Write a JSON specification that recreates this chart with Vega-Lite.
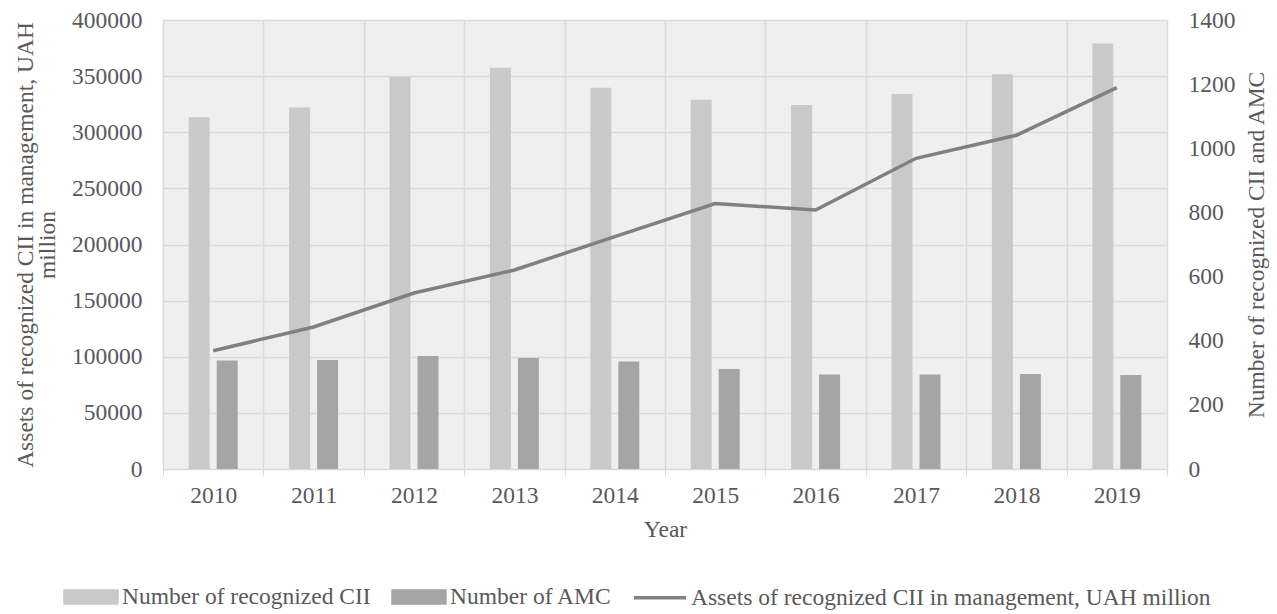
{
  "$schema": "https://vega.github.io/schema/vega-lite/v6.json",
  "width": 1004,
  "height": 449,
  "autosize": {"type": "none"},
  "padding": {"left": 163, "top": 20, "right": 110, "bottom": 145},
  "background": "white",
  "config": {
    "font": "Liberation Serif",
    "view": {"stroke": null, "fill": "#efefef"},
    "axis": {
      "labelFont": "Liberation Serif",
      "titleFont": "Liberation Serif",
      "labelFontSize": 23.5,
      "titleFontSize": 23.5,
      "labelColor": "#595959",
      "titleColor": "#595959",
      "titleFontWeight": "normal",
      "gridColor": "#d9d9d9",
      "gridWidth": 1.5,
      "domainColor": "#d9d9d9",
      "tickColor": "#d9d9d9"
    },
    "legend": {
      "labelFont": "Liberation Serif",
      "labelFontSize": 23.5,
      "labelColor": "#595959",
      "labelLimit": 1000
    }
  },
  "datasets": {
    "bars": [
      {"year": "2010", "series": "Number of recognized CII", "value": 1097},
      {"year": "2010", "series": "Number of AMC", "value": 338},
      {"year": "2011", "series": "Number of recognized CII", "value": 1127},
      {"year": "2011", "series": "Number of AMC", "value": 340},
      {"year": "2012", "series": "Number of recognized CII", "value": 1223},
      {"year": "2012", "series": "Number of AMC", "value": 352},
      {"year": "2013", "series": "Number of recognized CII", "value": 1251},
      {"year": "2013", "series": "Number of AMC", "value": 346},
      {"year": "2014", "series": "Number of recognized CII", "value": 1189},
      {"year": "2014", "series": "Number of AMC", "value": 335},
      {"year": "2015", "series": "Number of recognized CII", "value": 1151},
      {"year": "2015", "series": "Number of AMC", "value": 312},
      {"year": "2016", "series": "Number of recognized CII", "value": 1135},
      {"year": "2016", "series": "Number of AMC", "value": 295},
      {"year": "2017", "series": "Number of recognized CII", "value": 1169},
      {"year": "2017", "series": "Number of AMC", "value": 295},
      {"year": "2018", "series": "Number of recognized CII", "value": 1231},
      {"year": "2018", "series": "Number of AMC", "value": 296},
      {"year": "2019", "series": "Number of recognized CII", "value": 1327},
      {"year": "2019", "series": "Number of AMC", "value": 293}
    ],
    "assets": [
      {"year": "2010", "assets": 105400},
      {"year": "2011", "assets": 126500},
      {"year": "2012", "assets": 156800},
      {"year": "2013", "assets": 177300},
      {"year": "2014", "assets": 207000},
      {"year": "2015", "assets": 236500},
      {"year": "2016", "assets": 230700},
      {"year": "2017", "assets": 276800},
      {"year": "2018", "assets": 297300},
      {"year": "2019", "assets": 339800}
    ]
  },
  "layer": [
    {
      "data": {"name": "bars"},
      "mark": {"type": "bar"},
      "encoding": {
        "x": {
          "field": "year",
          "type": "ordinal",
          "scale": {"paddingInner": 0, "paddingOuter": 0},
          "axis": {
            "title": "Year",
            "labelAngle": 0,
            "tickBand": "extent",
            "grid": true,
            "tickSize": 6,
            "labelPadding": 8,
            "titlePadding": 11
          }
        },
        "xOffset": {
          "field": "series",
          "type": "nominal",
          "scale": {
            "domain": ["Number of recognized CII", "Number of AMC"],
            "paddingInner": 0.25,
            "paddingOuter": 0.918
          }
        },
        "y": {
          "field": "value",
          "type": "quantitative",
          "scale": {"domain": [0, 1400], "nice": false},
          "axis": {
            "orient": "right",
            "values": [0, 200, 400, 600, 800, 1000, 1200, 1400],
            "format": "d",
            "grid": false,
            "domain": false,
            "ticks": false,
            "labelPadding": 21,
            "title": "Number of recognized CII and AMC",
            "titleAngle": 270,
            "titleBaseline": "top",
            "titlePadding": 9
          }
        },
        "color": {
          "field": "series",
          "type": "nominal",
          "scale": {
            "domain": ["Number of recognized CII", "Number of AMC", "Assets of recognized CII in management, UAH million"],
            "range": ["#c9c9c9", "#a5a5a5", "#808080"]
          },
          "legend": {
            "title": null,
            "orient": "none",
            "direction": "horizontal",
            "legendX": -100,
            "legendY": 549,
            "symbolSize": 2704,
            "symbolType": "M-1,-0.23H1V0.23H-1Z",
            "columnPadding": 15,
            "labelOffset": 3,
            "encode": {
              "symbols": {
                "update": {
                  "shape": [
                    {"test": "datum.value === 'Assets of recognized CII in management, UAH million'", "value": "stroke"},
                    {"value": "M-1,-0.23H1V0.23H-1Z"}
                  ],
                  "fill": [
                    {"test": "datum.value === 'Assets of recognized CII in management, UAH million'", "value": "transparent"},
                    {"scale": "color", "field": "value"}
                  ],
                  "stroke": [
                    {"test": "datum.value === 'Assets of recognized CII in management, UAH million'", "scale": "color", "field": "value"},
                    {"value": "transparent"}
                  ],
                  "strokeWidth": {"value": 3.5}
                }
              }
            }
          }
        }
      }
    },
    {
      "data": {"name": "assets"},
      "mark": {"type": "line", "strokeWidth": 3.5},
      "encoding": {
        "x": {"field": "year", "type": "ordinal"},
        "y": {
          "field": "assets",
          "type": "quantitative",
          "scale": {"domain": [0, 400000], "nice": false},
          "axis": {
            "orient": "left",
            "values": [0, 50000, 100000, 150000, 200000, 250000, 300000, 350000, 400000],
            "format": "d",
            "grid": true,
            "domain": false,
            "ticks": false,
            "labelPadding": 21,
            "title": ["Assets of recognized CII in management, UAH", "million"],
            "titleLineHeight": 22,
            "titlePadding": 12
          }
        },
        "color": {"datum": "Assets of recognized CII in management, UAH million"}
      }
    }
  ],
  "resolve": {"scale": {"y": "independent"}}
}
